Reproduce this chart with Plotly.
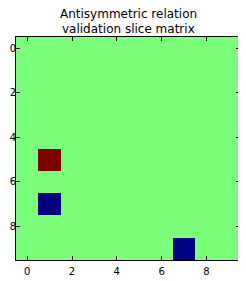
import plotly.graph_objects as go
import numpy as np

n_rows = 10
n_cols = 10
nz_rows = [5, 7, 9]
nz_cols = [1, 1, 7]
nz_vals = [1, -1, -1]
tick_vals = [0, 2, 4, 6, 8]
title_lines = ["Antisymmetric relation", "validation slice matrix"]

z = np.zeros((n_rows, n_cols))
for r, c, v in zip(nz_rows, nz_cols, nz_vals):
    z[r, c] = v

# matplotlib jet approximation
def jet(t):
    def interp(pts):
        xs, ys = zip(*pts)
        return float(np.interp(t, xs, ys))
    r = interp([(0, 0), (0.35, 0), (0.66, 1), (0.89, 1), (1, 0.5)])
    g = interp([(0, 0), (0.125, 0), (0.375, 1), (0.64, 1), (0.91, 0), (1, 0)])
    b = interp([(0, 0.5), (0.11, 1), (0.34, 1), (0.65, 0), (1, 0)])
    return f"rgb({round(r*255)},{round(g*255)},{round(b*255)})"

stops = np.linspace(0, 1, 41)
cscale = [[float(s), jet(s)] for s in stops]

fig = go.Figure(go.Heatmap(z=z, x=list(range(n_cols)), y=list(range(n_rows)),
                           colorscale=cscale, zmin=-1, zmax=1, showscale=False))

axis_common = dict(
    tickvals=tick_vals, ticks="inside", ticklen=4, tickwidth=1, tickcolor="black",
    showline=True, linecolor="black", linewidth=1, mirror="ticks",
    showgrid=False, zeroline=False, automargin=False,
    tickfont=dict(family="DejaVu Sans", size=10, color="black"),
)
fig.update_xaxes(range=[-0.5, 9.5], ticklabelstandoff=2, **axis_common)
fig.update_yaxes(range=[9.5, -0.5], ticklabelstandoff=-3, **axis_common)

# page has an 8px body margin; figure sized to fit inside it
W, H = 238, 273
M_L, M_R, M_T, M_B = 8, 6, 29, 21
fig.update_layout(
    width=W, height=H,
    margin=dict(l=M_L, r=M_R, t=M_T, b=M_B, autoexpand=False),
    paper_bgcolor="white", plot_bgcolor="white",
)
plot_h = H - M_T - M_B
annots = []
for txt, ypx in zip(title_lines, [5.5, 20.5]):
    annots.append(dict(text=txt, x=0.5, xref="paper", xanchor="center",
                       y=1 + (M_T - ypx) / plot_h, yref="paper", yanchor="middle",
                       showarrow=False,
                       font=dict(family="DejaVu Sans", size=12, color="black")))
fig.update_layout(annotations=annots)

fig.write_html("out.html")
